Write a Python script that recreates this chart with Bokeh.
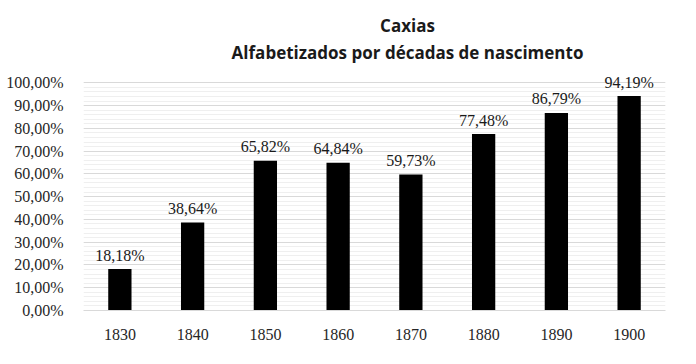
from bokeh.plotting import figure
from bokeh.models import Range1d, FixedTicker, Label, ColumnDataSource
from bokeh.embed import file_html
from bokeh.resources import INLINE

decades = ["1830", "1840", "1850", "1860", "1870", "1880", "1890", "1900"]
values = [18.18, 38.64, 65.82, 64.84, 59.73, 77.48, 86.79, 94.19]
labels = ["18,18%", "38,64%", "65,82%", "64,84%", "59,73%", "77,48%", "86,79%", "94,19%"]
yticks = [0, 10, 20, 30, 40, 50, 60, 70, 80, 90, 100]
ytick_labels = ["0,00%", "10,00%", "20,00%", "30,00%", "40,00%", "50,00%",
                "60,00%", "70,00%", "80,00%", "90,00%", "100,00%"]
title1 = "Caxias"
title2 = "Alfabetizados por décadas de nascimento"

src = ColumnDataSource(dict(x=decades, top=values, lab=labels))

p = figure(x_range=decades, y_range=Range1d(0, 130), width=680, height=348,
           output_backend="svg", toolbar_location=None,
           min_border_left=83, min_border_right=15, min_border_top=14, min_border_bottom=38)
p.outline_line_color = None
p.background_fill_color = "white"
p.border_fill_color = "white"

p.vbar(x="x", top="top", width=0.32, source=src, fill_color="black", line_color=None)
p.text(x="x", y="top", text="lab", source=src, text_align="center",
       text_baseline="alphabetic", y_offset=-14, text_font="Liberation Serif",
       text_font_size="16px", text_color="#1a1a1a")

p.yaxis.ticker = FixedTicker(ticks=yticks, minor_ticks=list(range(0, 101, 2)))
p.yaxis.major_label_overrides = {float(t): l for t, l in zip(yticks, ytick_labels)}
p.yaxis.axis_line_color = None
p.yaxis.major_tick_line_color = None
p.yaxis.minor_tick_line_color = None
p.yaxis.major_label_standoff = 14
p.yaxis.major_label_text_font = "Liberation Serif"
p.yaxis.major_label_text_font_size = "16px"
p.yaxis.major_label_text_color = "#262626"

p.xaxis.axis_line_color = "#d9d9d9"
p.xaxis.major_tick_line_color = None
p.xaxis.minor_tick_line_color = None
p.xaxis.major_label_standoff = 12
p.xaxis.major_label_text_font = "Liberation Serif"
p.xaxis.major_label_text_font_size = "16px"
p.xaxis.major_label_text_color = "#262626"

p.xgrid.grid_line_color = None
p.ygrid.grid_line_color = "#d9d9d9"
p.ygrid.minor_grid_line_color = "#efefef"

p.add_layout(Label(x=4.454, y=125, text=title1, text_align="center", text_baseline="middle",
                   text_font="Open Sans", text_font_style="bold", text_font_size="17px",
                   text_color="#1a1a1a"))
p.add_layout(Label(x=4.454, y=113.2, text=title2, text_align="center", text_baseline="middle",
                   text_font="Open Sans", text_font_style="bold", text_font_size="17px",
                   text_color="#1a1a1a"))

open("out.html", "w").write(file_html(p, INLINE))
